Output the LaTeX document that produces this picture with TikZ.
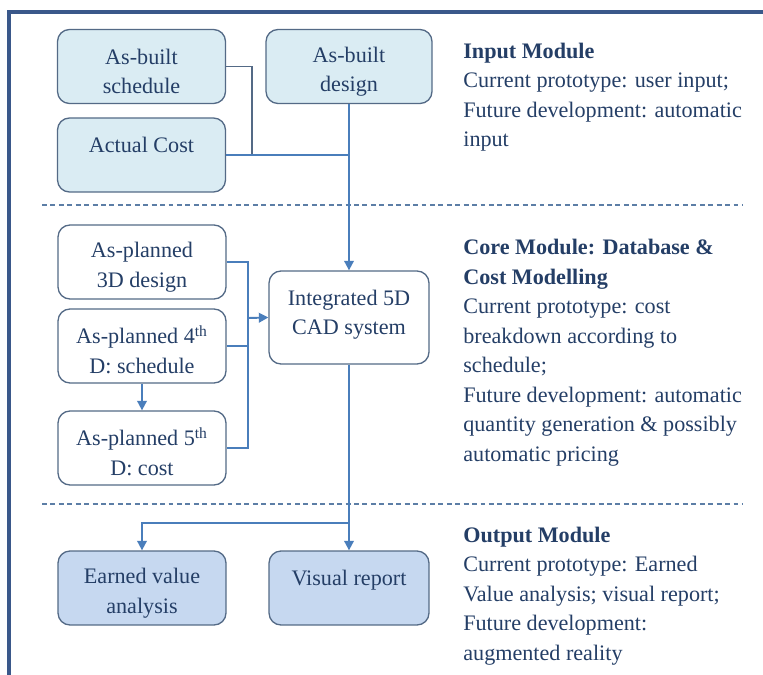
\documentclass[tikz,border=0pt]{standalone}
\usepackage{fontspec}
\setmainfont{Liberation Serif}
\usetikzlibrary{arrows.meta}
\definecolor{inputfill}{RGB}{218,236,243}
\definecolor{outputfill}{RGB}{198,216,240}
\definecolor{boxline}{RGB}{84,106,134}
\definecolor{textblue}{RGB}{36,62,102}
\definecolor{linkblue}{RGB}{74,126,187}
\definecolor{dashblue}{RGB}{92,126,166}
\definecolor{framblue}{RGB}{58,88,138}
\newcommand{\boxfont}{\fontsize{12.6pt}{16.8pt}\selectfont}
\newcommand{\boxlift}{\rule{0pt}{14.5pt}}
\tikzset{
	box/.style={rectangle, rounded corners=0.24cm, draw=boxline, line width=0.75pt, text=textblue, align=center, inner sep=0mm, minimum width=3.36cm, minimum height=1.48cm, font=\boxfont},
	inbox/.style={box, fill=inputfill},
	corebox/.style={box, fill=white},
	outbox/.style={box, fill=outputfill},
	link/.style={draw=linkblue, line width=1.1pt},
	thinlink/.style={draw=boxline, line width=0.8pt},
	arrow/.style={link, -{Triangle[length=1.9mm, width=1.9mm]}},
	note/.style={anchor=north west, align=left, text=textblue, inner sep=0mm, font=\boxfont},
	divider/.style={draw=dashblue, line width=0.7pt, dash pattern=on 2.8pt off 2pt},
	frame/.style={draw=framblue, line width=2pt}
}
\begin{document}
\begin{tikzpicture}[x=0.02cm, y=-0.02cm]
		\useasboundingbox (0, 0) rectangle (763, 675);
		\fill[white] (0, 0) rectangle (763, 675);
		\draw[frame] (9, 675) |- (763, 12);
		\draw[divider] (42, 205) -- (743, 205);
		\draw[divider] (42, 504) -- (743, 504);
		\node[inbox] (schedule) at (141.5, 66.5) {\boxlift As-built\\schedule};
		\node[inbox, minimum width=3.32cm] (design) at (349, 66.5) {\boxlift As-built\\design};
		\node[inbox] (cost) at (141.5, 155) {\boxlift Actual Cost\\ \mbox{}};
		\node[corebox] (plan3d) at (142, 262) {\boxlift As-planned\\3D design};
		\node[corebox] (plan4d) at (142, 346) {\boxlift As-planned 4\textsuperscript{th}\\D: schedule};
		\node[corebox] (plan5d) at (142, 448) {\boxlift As-planned 5\textsuperscript{th}\\D: cost};
		\node[corebox, minimum width=3.2cm, minimum height=1.86cm, text depth=6pt] (cad) at (349, 317.5) {Integrated 5D\\CAD system};
		\node[outbox] (earned) at (142, 588) {\boxlift Earned value\\analysis};
		\node[outbox, minimum width=3.2cm] (report) at (349, 588) {\boxlift Visual report\\ \mbox{}};
		\node[note] (inputnote) at (463, 37.3) {\strut\textbf{Input Module}\\Current prototype: user input;\\Future development: automatic\\input};
		\node[note] (corenote) at (463, 233.5) {\strut\textbf{Core Module: Database \&}\\\textbf{Cost Modelling}\\Current prototype: cost\\breakdown according to\\schedule;\\Future development: automatic\\quantity generation \& possibly\\automatic pricing};
		\node[note] (outputnote) at (463, 521.3) {\strut\textbf{Output Module}\\Current prototype: Earned\\Value analysis; visual report;\\Future development:\\augmented reality};
		\coordinate (joinin) at (252, 155);
		\coordinate (joinmid) at (349, 155);
		\coordinate (joinplan) at (248, 318);
		\coordinate (joinout) at (349, 523);
		\draw[thinlink] (schedule.east) -| (joinin);
		\draw[link] (cost.east) -- (joinmid);
		\draw[arrow] (design.south) -- (cad.north);
		\draw[link] (plan3d.east) -| (joinplan |- plan5d.east) -- (plan5d.east);
		\draw[link] (plan4d.east) -- (plan4d.east -| joinplan);
		\draw[arrow] (joinplan) -- (cad.west);
		\draw[arrow] (plan4d.south) -- (plan5d.north);
		\draw[arrow] (cad.south) -- (report.north);
		\draw[arrow] (joinout) -| (earned.north);
	\end{tikzpicture}
\end{document}
